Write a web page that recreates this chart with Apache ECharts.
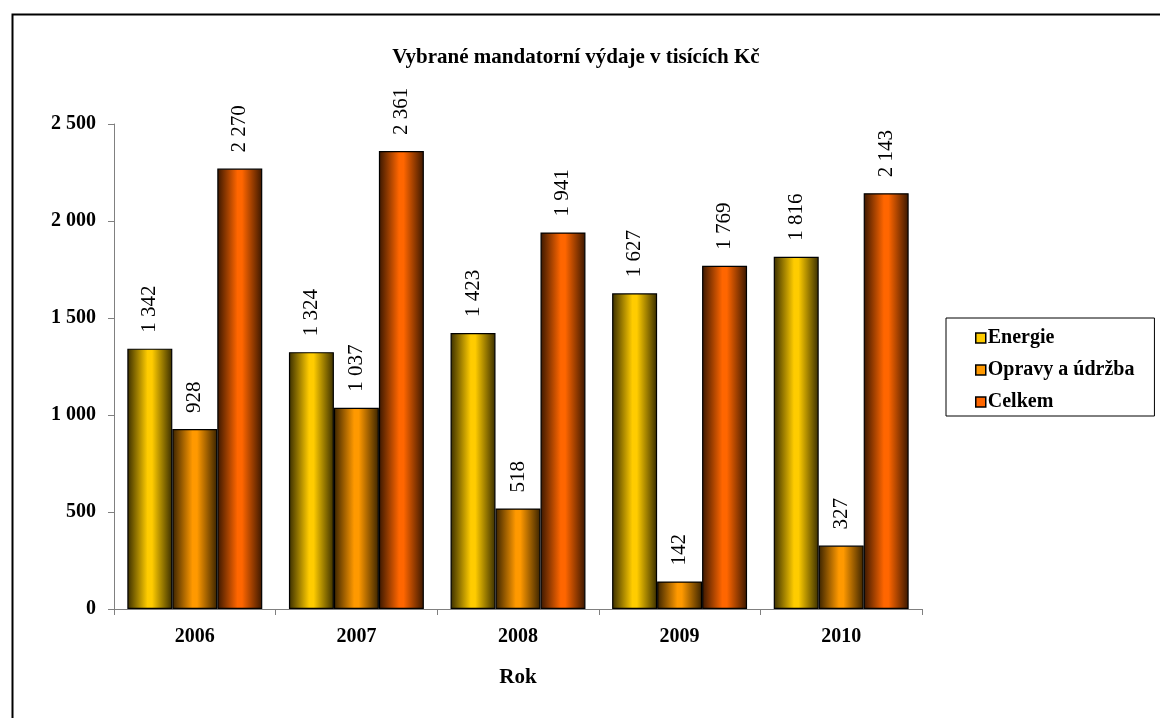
<!DOCTYPE html>
<html>
<head>
<meta charset="utf-8">
<script src="https://cdn.jsdelivr.net/npm/echarts@6/dist/echarts.min.js"></script>
<style>
  html, body { margin: 0; padding: 0; background: #fff; }
  #chart { width: 1160px; height: 718px; }
</style>
</head>
<body>
<div id="chart"></div>
<script>
// Years on the category axis
const years = ['2006', '2007', '2008', '2009', '2010'];

// Spending in thousands of CZK
const energie = [1342, 1324, 1423, 1627, 1816];
const opravy = [928, 1037, 518, 142, 327];
const celkem = [2270, 2361, 1941, 1769, 2143];

const seriesNames = ['Energie', 'Opravy a údržba', 'Celkem'];
const yTicks = [0, 500, 1000, 1500, 2000, 2500];

const serif = '"Liberation Serif", "DejaVu Serif", serif';

// Thousands separated by a space: 2270 -> "2 270"
function fmt(v) {
  return String(v).replace(/\B(?=(\d{3})+(?!\d))/g, ' ');
}

// Horizontal "cylinder" shading: dark edges, bright middle
function shade(bright, dark) {
  return new echarts.graphic.LinearGradient(0, 0, 1, 0, [
    { offset: 0, color: dark },
    { offset: 0.45, color: bright },
    { offset: 0.55, color: bright },
    { offset: 1, color: dark }
  ]);
}

const palette = [
  shade('#ffcc00', '#3a2e00'),
  shade('#ff9900', '#3a2300'),
  shade('#ff6600', '#3a1700')
];
const flat = ['#ffcc00', '#ff9900', '#ff6600'];

const data = [energie, opravy, celkem];

const chart = echarts.init(document.getElementById('chart'), null, { renderer: 'canvas' });

chart.setOption({
  backgroundColor: '#ffffff',
  animation: false,
  title: {
    text: 'Vybrané mandatorní výdaje v tisících Kč',
    left: 571,
    textAlign: 'center',
    top: 42,
    textStyle: { fontFamily: serif, fontWeight: 'bold', fontSize: 21, color: '#000' }
  },
  legend: {
    orient: 'vertical',
    left: 946,
    top: 318,
    padding: [10, 20, 4, 29],
    itemGap: 12,
    itemWidth: 10,
    itemHeight: 10,
    icon: 'rect',
    borderColor: '#000',
    borderWidth: 1,
    data: seriesNames.map((n, i) => ({
      name: n,
      itemStyle: { color: flat[i], borderColor: '#000', borderWidth: 1.5 }
    })),
    textStyle: {
      fontFamily: serif, fontWeight: 'bold', fontSize: 20, lineHeight: 20,
      color: '#000', padding: [0, 0, 0, -3]
    }
  },
  grid: { left: 114, right: 238, top: 124, bottom: 109, containLabel: false },
  xAxis: {
    type: 'category',
    data: years,
    name: 'Rok',
    nameLocation: 'middle',
    nameGap: 58,
    nameTextStyle: { fontFamily: serif, fontWeight: 'bold', fontSize: 21, color: '#000' },
    axisLine: { lineStyle: { color: '#808080', width: 1 } },
    axisTick: { show: true, length: 6, lineStyle: { color: '#808080' } },
    axisLabel: { fontFamily: serif, fontWeight: 'bold', fontSize: 20, color: '#000', margin: 18 }
  },
  yAxis: {
    type: 'value',
    min: 0,
    max: 2500,
    interval: 500,
    axisLine: { show: true, lineStyle: { color: '#808080', width: 1 } },
    axisTick: { show: true, length: 6, lineStyle: { color: '#808080' } },
    splitLine: { show: false },
    axisLabel: {
      fontFamily: serif, fontWeight: 'bold', fontSize: 20, color: '#000', margin: 18,
      padding: [4, 0, 0, 0],
      formatter: v => (yTicks.includes(v) ? fmt(v) : '')
    }
  },
  series: seriesNames.map((n, i) => ({
    name: n,
    type: 'bar',
    data: data[i],
    barGap: '0%',
    barCategoryGap: '16.5%',
    itemStyle: { color: palette[i], borderColor: '#000', borderWidth: 1.2 },
    label: {
      show: true,
      position: 'top',
      rotate: 90,
      align: 'left',
      verticalAlign: 'middle',
      distance: 16,
      formatter: p => fmt(p.value),
      fontFamily: serif,
      fontSize: 21,
      color: '#000'
    }
  })),
  graphic: [
    {
      type: 'rect',
      left: 10,
      top: 12,
      shape: { width: 1160, height: 720 },
      style: { fill: 'none', stroke: '#000', lineWidth: 2 },
      silent: true
    }
  ]
});
</script>
</body>
</html>
